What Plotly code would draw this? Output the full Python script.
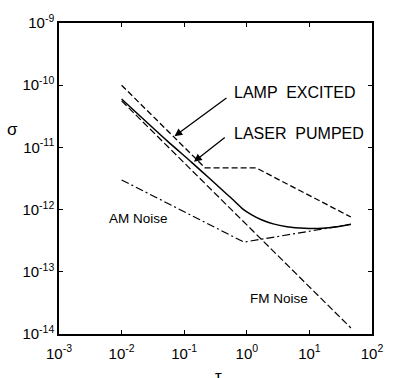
import plotly.graph_objects as go
import math

# ---- data ----
tau_lamp = [0.01, 0.215, 1.4, 46]
sig_lamp = [1.0e-10, 4.7e-12, 4.7e-12, 7.6e-13]

tau_laser = [0.01, 0.054, 0.133, 0.255, 0.393, 0.604, 0.866, 1.20, 1.71, 2.64, 4.37, 8.35, 16, 27.4, 46]
sig_laser = [6.0e-11, 1.26e-11, 5.7e-12, 3.16e-12, 2.12e-12, 1.44e-12, 1.02e-12, 8.24e-13, 6.87e-13,
             5.9e-13, 5.32e-13, 5.02e-13, 5.02e-13, 5.3e-13, 5.8e-13]

tau_fm = [0.01, 46]
sig_fm = [5.6e-11, 1.25e-14]

tau_am = [0.01, 0.9, 46]
sig_am = [3.0e-12, 3.0e-13, 5.8e-13]

x_tickvals = [1e-3, 1e-2, 1e-1, 1e0, 1e1, 1e2]
x_ticktext = ["10<sup>-3</sup>", "10<sup>-2</sup>", "10<sup>-1</sup>", "10<sup>0</sup>", "10<sup>1</sup>", "10<sup>2</sup>"]
y_tickvals = [1e-14, 1e-13, 1e-12, 1e-11, 1e-10, 1e-9]
y_ticktext = ["10<sup>-14</sup>", "10<sup>-13</sup>", "10<sup>-12</sup>", "10<sup>-11</sup>", "10<sup>-10</sup>", "10<sup>-9</sup>"]

FONT = "Liberation Sans, Arial, sans-serif"
L = math.log10

fig = go.Figure()
fig.add_trace(go.Scatter(x=tau_lamp, y=sig_lamp, mode="lines",
                         line=dict(color="black", width=1.3, dash="6px,3px")))
fig.add_trace(go.Scatter(x=tau_laser, y=sig_laser, mode="lines",
                         line=dict(color="black", width=1.5, shape="spline", smoothing=0.6)))
fig.add_trace(go.Scatter(x=tau_fm, y=sig_fm, mode="lines",
                         line=dict(color="black", width=1.2, dash="7px,3px")))
fig.add_trace(go.Scatter(x=tau_am, y=sig_am, mode="lines",
                         line=dict(color="black", width=1.2, dash="8px,3px,2px,3px")))

annotations = [
    dict(x=L(0.07), y=L(1.51e-11), ax=L(0.5), ay=L(6.5e-11), xref="x", yref="y", axref="x", ayref="y",
         showarrow=True, arrowhead=2, arrowsize=1.2, arrowwidth=1.3, arrowcolor="black", text=""),
    dict(x=L(0.143), y=L(5.9e-12), ax=L(0.47), ay=L(1.51e-11), xref="x", yref="y", axref="x", ayref="y",
         showarrow=True, arrowhead=2, arrowsize=1.2, arrowwidth=1.3, arrowcolor="black", text=""),
    dict(x=L(0.5), y=L(6.5e-11), xref="x", yref="y", text="LAMP  EXCITED", showarrow=False,
         xanchor="left", yanchor="middle", xshift=4, yshift=4, font=dict(family=FONT, size=16, color="black")),
    dict(x=L(0.47), y=L(1.51e-11), xref="x", yref="y", text="LASER  PUMPED", showarrow=False,
         xanchor="left", yanchor="middle", xshift=6, yshift=3, font=dict(family=FONT, size=16, color="black")),
    dict(x=-1.727, y=-12.149, xref="x", yref="y", text="AM Noise", showarrow=False,
         font=dict(family=FONT, size=13.5, color="black")),
    dict(x=0.508, y=-13.43, xref="x", yref="y", text="FM Noise", showarrow=False,
         font=dict(family=FONT, size=13.5, color="black")),
    dict(x=-0.147, y=0.696, xref="paper", yref="paper", text="σ", showarrow=False, xanchor="center",
         font=dict(family=FONT, size=17, color="black")),
    dict(x=0.51, y=-0.10, xref="paper", yref="paper", text="τ", showarrow=False, yanchor="top",
         font=dict(family=FONT, size=17, color="black")),
]

axis_common = dict(type="log", showline=True, linecolor="black", linewidth=1.5, mirror="ticks",
                   ticks="inside", ticklen=4, tickwidth=1.2, tickcolor="black", showgrid=False,
                   zeroline=False, tickfont=dict(family=FONT, size=15, color="black"))

fig.update_layout(
    width=395, height=378,
    margin=dict(l=59, r=16, t=18, b=44),
    paper_bgcolor="white", plot_bgcolor="white",
    showlegend=False,
    xaxis=dict(range=[-3, 2], tickvals=x_tickvals, ticktext=x_ticktext, ticklabelstandoff=5, **axis_common),
    yaxis=dict(range=[-14, -9], tickvals=y_tickvals, ticktext=y_ticktext, **axis_common),
    annotations=annotations,
)

fig.write_html("out.html")
